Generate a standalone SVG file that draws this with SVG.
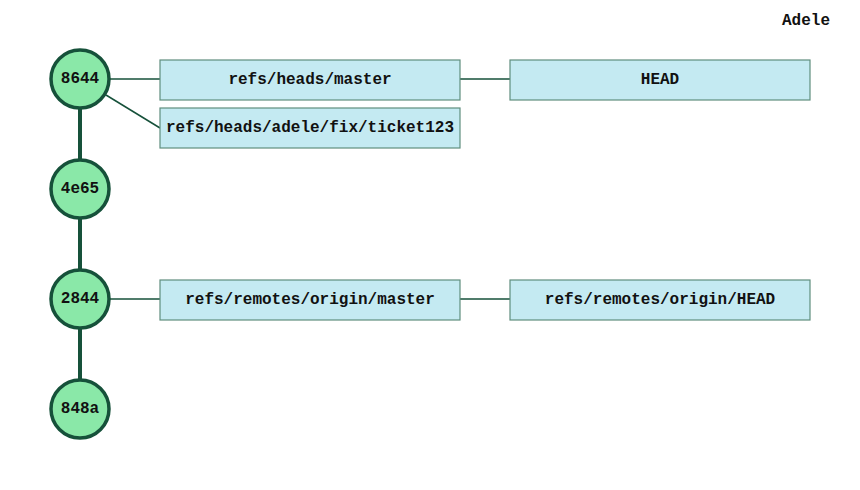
<svg xmlns="http://www.w3.org/2000/svg" width="860" height="490" viewBox="0 0 860 490">
<style>
text{font-family:"Liberation Mono","Courier New",monospace;font-weight:bold;font-size:16px;fill:#111;text-anchor:middle;dominant-baseline:central}
.commit circle{fill:#8ae8a8;stroke:#16513a;stroke-width:3.5}
.ref rect{fill:#c4eaf2;stroke:#5f8e7e;stroke-width:1.2}
.parent{stroke:#16513a;stroke-width:4}
.link{stroke:#16513a;stroke-width:1.5;fill:none}
</style>
<rect width="860" height="490" fill="#fff"/>
<text x="830" y="21" style="text-anchor:end">Adele</text>
<g id="connectors">
<line class="parent" x1="80" y1="79" x2="80" y2="189"/>
<line class="parent" x1="80" y1="189" x2="80" y2="299"/>
<line class="parent" x1="80" y1="299" x2="80" y2="409"/>
<line class="link" x1="110" y1="79" x2="160" y2="79"/>
<line class="link" x1="106" y1="95" x2="160" y2="128"/>
<line class="link" x1="460" y1="79" x2="510" y2="79"/>
<line class="link" x1="110" y1="299" x2="160" y2="299"/>
<line class="link" x1="460" y1="299" x2="510" y2="299"/>
</g>
<g id="c8644" class="commit"><circle cx="80" cy="79" r="29"/><text x="80" y="79">8644</text></g>
<g id="c4e65" class="commit"><circle cx="80" cy="189" r="29"/><text x="80" y="189">4e65</text></g>
<g id="c2844" class="commit"><circle cx="80" cy="299" r="29"/><text x="80" y="299">2844</text></g>
<g id="c848a" class="commit"><circle cx="80" cy="409" r="29"/><text x="80" y="409">848a</text></g>
<g id="r-master" class="ref"><rect x="160" y="60" width="300" height="40"/><text x="310" y="80">refs/heads/master</text></g>
<g id="r-head" class="ref"><rect x="510" y="60" width="300" height="40"/><text x="660" y="80">HEAD</text></g>
<g id="r-ticket" class="ref"><rect x="160" y="108" width="300" height="40"/><text x="310" y="128">refs/heads/adele/fix/ticket123</text></g>
<g id="r-origin-master" class="ref"><rect x="160" y="280" width="300" height="40"/><text x="310" y="300">refs/remotes/origin/master</text></g>
<g id="r-origin-head" class="ref"><rect x="510" y="280" width="300" height="40"/><text x="660" y="300">refs/remotes/origin/HEAD</text></g>
</svg>
